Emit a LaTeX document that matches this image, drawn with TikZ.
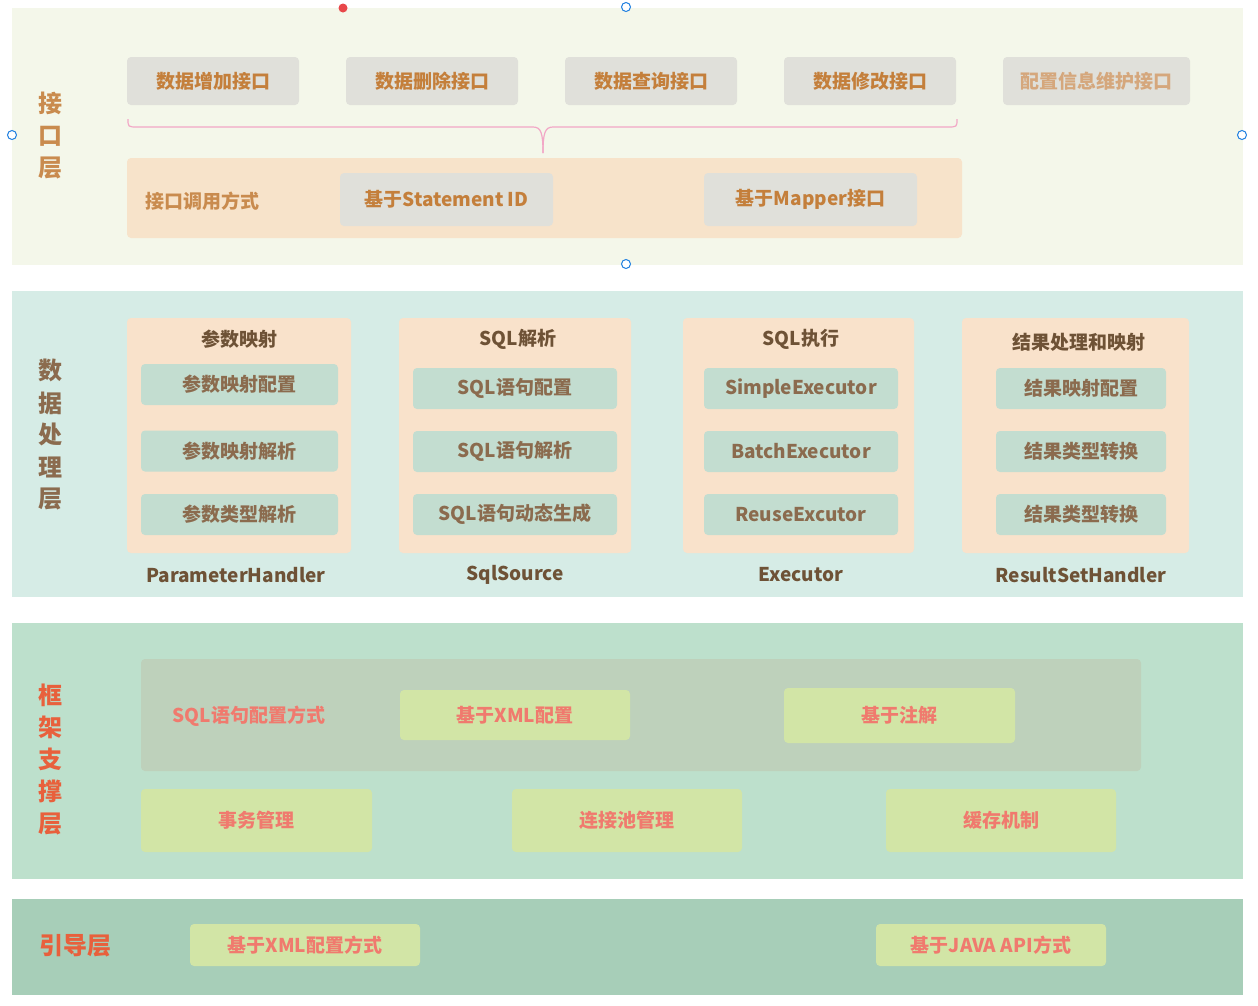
\documentclass[tikz,border=0pt]{standalone}
\usepackage{fontspec}
\setmainfont{Noto Sans CJK SC}
\usetikzlibrary{positioning}
\definecolor{MbIfaceBg}{HTML}{F4F7EA}
\definecolor{MbGray}{HTML}{E0E0DA}
\definecolor{MbOrange}{HTML}{C47F3B}
\definecolor{MbOrangeFaint}{HTML}{D5A77C}
\definecolor{MbIfaceLabel}{HTML}{C98B4E}
\definecolor{MbPink}{HTML}{F2A7C6}
\definecolor{MbPeach}{HTML}{F7E3CA}
\definecolor{MbProcBg}{HTML}{D6ECE6}
\definecolor{MbColBg}{HTML}{F9E2CB}
\definecolor{MbSubBox}{HTML}{C3DDD0}
\definecolor{MbBrown}{HTML}{8B6B4E}
\definecolor{MbDarkBrown}{HTML}{6E5236}
\definecolor{MbFrameBg}{HTML}{BDE0CC}
\definecolor{MbInner}{HTML}{BED1BB}
\definecolor{MbLime}{HTML}{D2E5A6}
\definecolor{MbSalmon}{HTML}{F07A6E}
\definecolor{MbRed}{HTML}{E8603C}
\definecolor{MbBootBg}{HTML}{A7CEB8}
\definecolor{MbHandle}{HTML}{1E7FE0}
\definecolor{MbDot}{HTML}{E8474A}

\begin{document}
\begin{tikzpicture}[x=1pt,y=-1pt,
    sz/.style 2 args={minimum width=#1pt,minimum height=#2pt},
    box/.style={rounded corners=4pt,inner sep=0pt,
      font=\bfseries\fontsize{19}{23}\selectfont},
    graybox/.style={box,fill=MbGray,text=MbOrange},
    subbox/.style={box,fill=MbSubBox,text=MbBrown},
    colbox/.style={box,fill=MbColBg},
    limebox/.style={box,fill=MbLime,text=MbSalmon},
    layerlabel/.style={align=center,inner sep=0pt,
      font=\bfseries\fontsize{24}{32}\selectfont},
    title/.style={inner sep=0pt,text=MbDarkBrown,
      font=\bfseries\fontsize{19}{23}\selectfont}]
  \useasboundingbox (0,0) rectangle (1258,1005);

  % 接口层
  \fill[MbIfaceBg] (12,8) rectangle (1243,265);
  \node[layerlabel,text=MbIfaceLabel] (ifaceLabel) at (50,136) {接\\口\\层};

  \node[graybox,sz={172}{48}] (addApi) at (213,81) {数据增加接口};
  \node[graybox,sz={172}{48}] (delApi) at (432,81) {数据删除接口};
  \node[graybox,sz={172}{48}] (qryApi) at (651,81) {数据查询接口};
  \node[graybox,sz={172}{48}] (updApi) at (870,81) {数据修改接口};
  \node[graybox,sz={187}{48},text=MbOrangeFaint] (cfgApi) at (1096.5,81) {配置信息维护接口};

  \draw[MbPink,line width=1.2pt]
    (128,119) .. controls (128,127) .. (138,127) -- (533,127)
    .. controls (541,127) and (543,133) .. (543,153);
  \draw[MbPink,line width=1.2pt]
    (957,119) .. controls (957,127) .. (947,127) -- (553,127)
    .. controls (545,127) and (543,133) .. (543,153);

  \node[box,fill=MbPeach,sz={835}{80}] (callPanel) at (544.5,198) {};
  \node[title,text=MbIfaceLabel] (callLabel) at (202,201) {接口调用方式};
  \node[graybox,sz={213}{53}] (byId) at (446.5,199.5) {基于Statement ID};
  \node[graybox,sz={213}{53}] (byMapper) at (810.5,199.5) {基于Mapper接口};

  % 数据处理层
  \fill[MbProcBg] (12,291) rectangle (1243,597);
  \node[layerlabel,text=MbBrown] (procLabel) at (50,435) {数\\据\\处\\理\\层};

  \node[colbox,sz={224}{235}] (paramCol) at (239,435.5) {};
  \node[title] (paramTitle) at (239,339) {参数映射};
  \node[subbox,sz={197}{41}] (paramCfg) at (239.5,384.5) {参数映射配置};
  \node[subbox,sz={197}{41}] (paramParse) at (239.5,451) {参数映射解析};
  \node[subbox,sz={197}{41}] (paramType) at (239.5,514.5) {参数类型解析};
  \node[title] (paramName) at (236,575) {ParameterHandler};

  \node[colbox,sz={232}{235}] (sqlCol) at (515,435.5) {};
  \node[title] (sqlTitle) at (518,339) {SQL解析};
  \node[subbox,sz={204}{41}] (sqlCfg) at (515,388.5) {SQL语句配置};
  \node[subbox,sz={204}{41}] (sqlParse) at (515,451.5) {SQL语句解析};
  \node[subbox,sz={204}{41}] (sqlGen) at (515,514.5) {SQL语句动态生成};
  \node[title] (sqlName) at (515,575) {SqlSource};

  \node[colbox,sz={231}{235}] (execCol) at (798.5,435.5) {};
  \node[title] (execTitle) at (801,339) {SQL执行};
  \node[subbox,sz={194}{41}] (simpleExec) at (801,388.5) {SimpleExecutor};
  \node[subbox,sz={194}{41}] (batchExec) at (801,451.5) {BatchExecutor};
  \node[subbox,sz={194}{41}] (reuseExec) at (801,514.5) {ReuseExcutor};
  \node[title] (execName) at (801,575) {Executor};

  \node[colbox,sz={227}{235}] (resultCol) at (1075.5,435.5) {};
  \node[title] (resultTitle) at (1079,342) {结果处理和映射};
  \node[subbox,sz={170}{41}] (resultCfg) at (1081,388.5) {结果映射配置};
  \node[subbox,sz={170}{41}] (resultConv) at (1081,451.5) {结果类型转换};
  \node[subbox,sz={170}{41}] (resultConv2) at (1081,514.5) {结果类型转换};
  \node[title] (resultName) at (1081,575) {ResultSetHandler};

  % 框架支撑层
  \fill[MbFrameBg] (12,623) rectangle (1243,879);
  \node[layerlabel,text=MbRed] (frameLabel) at (50,759) {框\\架\\支\\撑\\层};

  \node[box,fill=MbInner,sz={1000}{112}] (sqlWayPanel) at (641,715) {};
  \node[title,text=MbSalmon] (sqlWayLabel) at (249,716) {SQL语句配置方式};
  \node[limebox,sz={230}{50}] (xmlWay) at (515,715) {基于XML配置};
  \node[limebox,sz={231}{55}] (annoWay) at (899.5,715.5) {基于注解};

  \node[limebox,sz={231}{63}] (txMgr) at (256.5,820.5) {事务管理};
  \node[limebox,sz={230}{63}] (poolMgr) at (627,820.5) {连接池管理};
  \node[limebox,sz={230}{63}] (cacheMgr) at (1001,820.5) {缓存机制};

  % 引导层
  \fill[MbBootBg] (12,899) rectangle (1243,995);
  \node[layerlabel,text=MbRed] (bootLabel) at (75,946) {引导层};
  \node[limebox,sz={230}{42}] (xmlBoot) at (305,945) {基于XML配置方式};
  \node[limebox,sz={230}{42}] (apiBoot) at (991,945) {基于JAVA API方式};

  % handles
  \fill[MbDot] (343,8) circle[radius=4.5];
  \foreach \hx/\hy in {626/7,12/135,1242/135,626/264}{
    \draw[MbHandle,fill=white,line width=1pt] (\hx,\hy) circle[radius=4.5];
  }
\end{tikzpicture}
\end{document}
